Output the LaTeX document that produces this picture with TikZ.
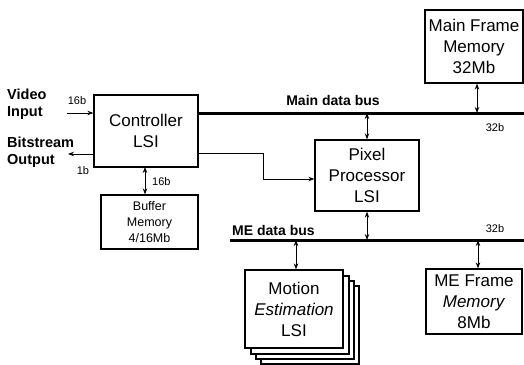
\documentclass[tikz,border=0pt]{standalone}
\usepackage{fontspec}
\setmainfont{Liberation Sans}
\usetikzlibrary{arrows.meta}
\begin{document}
\begin{tikzpicture}[x=1pt,y=-1pt,
  block/.style={draw,line width=1.3pt,inner sep=0pt,align=center,
    font=\fontsize{17}{21}\selectfont},
  smallblock/.style={draw,line width=1.3pt,inner sep=0pt,align=center,
    font=\fontsize{12.5}{16}\selectfont},
  bus/.style={line width=3pt},
  link/.style={line width=0.9pt},
  tip/.style={-{Stealth[length=6pt,width=4.5pt]}},
  dtip/.style={{Stealth[length=6pt,width=4.5pt]}-{Stealth[length=6pt,width=4.5pt]}},
  buslabel/.style={font=\fontsize{14}{16}\selectfont\bfseries},
  iolabel/.style={align=left,inner sep=0pt,font=\fontsize{14.5}{17}\selectfont\bfseries},
  width/.style={inner sep=0pt,font=\fontsize{11}{12}\selectfont}]
\useasboundingbox (0,0) rectangle (524,364);

% blocks
\node[block,minimum width=104pt,minimum height=72pt] (ctrl) at (146,131) {Controller\\LSI};
\node[smallblock,minimum width=97pt,minimum height=54pt] (buf) at (149.5,222) {Buffer\\Memory\\4/16Mb};
\node[block,minimum width=104pt,minimum height=71pt] (pix) at (367,175.5) {Pixel\\Processor\\LSI};
\node[block,minimum width=98pt,minimum height=73pt] (mfm) at (474,46.5) {Main Frame\\Memory\\32Mb};
\node[block,minimum width=96pt,minimum height=65pt] (mef) at (474,301.5) {ME Frame\\\textit{Memory}\\8Mb};

% stacked motion estimation chips, back to front
\foreach \d in {16,11,6}
  \node[block,fill=white,minimum width=98pt,minimum height=78pt] at (294+\d,309+\d) {};
\node[block,fill=white,minimum width=98pt,minimum height=78pt] (me) at (294,309) {Motion\\\textit{Estimation}\\LSI};

% buses
\coordinate (mainL) at (198,113);
\coordinate (mainR) at (524,113);
\coordinate (meL) at (230,240);
\coordinate (meR) at (524,240);
\draw[bus] (mainL) -- (mainR);
\draw[bus] (meL) -- (meR);
\node[buslabel] (mainlbl) at (333,100) {Main data bus};
\node[buslabel,anchor=west,inner sep=0pt] (melbl) at (232,230) {ME data bus};
\node[width] (w1) at (495,128) {32b};
\node[width] (w2) at (495,229) {32b};

% bus taps
\coordinate (tMfm) at (477,113);
\coordinate (tPixT) at (367,113);
\coordinate (tPixB) at (367,240);
\coordinate (tMe) at (296,240);
\coordinate (tMef) at (478,240);
\draw[link,dtip] (tMfm) -- (tMfm |- mfm.south);
\draw[link,dtip] (tPixT) -- (tPixT |- pix.north);
\draw[link,dtip] (tPixB) -- (tPixB |- pix.south);
\draw[link,dtip] (tMe) -- (tMe |- me.north);
\draw[link,dtip] (tMef) -- (tMef |- mef.north);

% controller to pixel processor
\coordinate (cOut) at (198,153);
\draw[link,tip] (cOut) -- (263,153) -- (263,179) -- (pix.west |- 0,179);

% controller to buffer memory
\coordinate (cBuf) at (145,167);
\draw[link,dtip] (cBuf) -- (cBuf |- buf.north);
\node[width,anchor=west] (w3) at (152,182) {16b};

% video in / bitstream out
\coordinate (vin) at (67,113);
\coordinate (bout) at (68,154);
\draw[link,tip] (vin) -- (vin -| ctrl.west);
\draw[link,tip] (bout -| ctrl.west) -- (bout);
\node[iolabel,anchor=west] (vlbl) at (7,104.5) {Video\\Input};
\node[iolabel,anchor=west] (blbl) at (7,152) {Bitstream\\Output};
\node[width] (w4) at (77,101) {16b};
\node[width] (w5) at (83,171) {1b};
\end{tikzpicture}
\end{document}
